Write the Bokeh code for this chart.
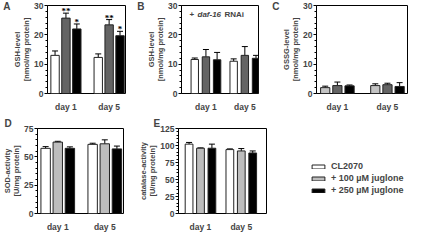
from bokeh.plotting import figure
from bokeh.models import (Range1d, FixedTicker, Whisker, ColumnDataSource, Label,
                          Legend, LegendItem, TeeHead, LinearAxis)
from bokeh.layouts import column, row
from bokeh.embed import file_html
from bokeh.resources import INLINE

days = ["day 1", "day 5"]
groups = ["CL2070", "+ 100 µM juglone", "+ 250 µM juglone"]

# panel A: GSH-level
a_vals = [[13.0, 12.3], [25.7, 23.4], [22.0, 19.7]]
a_err = [[1.5, 1.2], [1.7, 1.8], [1.7, 1.5]]
a_stars = [["", ""], ["**", "**"], ["*", "*"]]
# panel B: GSH-level + daf-16 RNAi
b_vals = [[11.6, 11.0], [12.5, 13.0], [11.5, 12.0]]
b_err = [[0.5, 0.8], [2.5, 3.0], [2.5, 1.0]]
# panel C: GSSG-level
c_vals = [[2.0, 2.7], [2.7, 3.0], [2.6, 2.4]]
c_err = [[0.5, 0.6], [1.2, 0.5], [0.3, 1.3]]
# panel D: SOD-activity
d_vals = [[57.5, 61.0], [63.0, 61.5], [57.5, 57.0]]
d_err = [[1.5, 1.0], [0.7, 3.5], [1.3, 2.5]]
# panel E: catalase-activity
e_vals = [[102.0, 94.0], [96.0, 92.0], [96.0, 89.0]]
e_err = [[2.5, 1.0], [0.5, 3.5], [6.0, 3.0]]

FONT = "Liberation Sans"
DARK = ["white", "#646464", "black"]
LIGHT = ["white", "#bdbdbd", "black"]
C_COLS = ["#c4c4c4", "#646464", "black"]


def panel(vals, errs, colors, ymax, major, minor, ylabel, letter, xr, off, bw,
          width, height, lb, rb, tb, bb, letter_dx, mode, stars=None):
    p = figure(width=width, height=height, output_backend="svg", toolbar_location=None,
               x_range=Range1d(*xr), y_range=Range1d(0, ymax),
               min_border_left=lb, min_border_right=rb, min_border_top=tb,
               min_border_bottom=bb)
    p.grid.visible = False
    p.outline_line_color = "black"
    p.outline_line_width = 1
    p.background_fill_color = "white"
    p.border_fill_color = "white"
    for i, (v, e) in enumerate(zip(vals, errs)):
        xs = [k + (i - 1) * off for k in range(len(days))]
        tops = [vv + ee for vv, ee in zip(v, e)]
        src = ColumnDataSource(dict(x=xs, top=v, up=tops))
        p.vbar(x="x", top="top", width=bw, source=src, fill_color=colors[i],
               line_color="#222222", line_width=1)
        w = Whisker(base="x", upper="up", lower="top", source=src,
                    line_color="black", line_width=1, lower_head=None,
                    upper_head=TeeHead(size=6, line_color="black", line_width=1))
        p.add_layout(w)
        if stars is not None:
            s = ColumnDataSource(dict(x=xs, y=tops, t=stars[i]))
            p.text(x="x", y="y", text="t", source=s, text_align="center",
                   text_baseline="bottom", text_font_size="9px",
                   text_font_style="bold", text_font=FONT, y_offset=3)
    xa = p.xaxis[0]
    xa.ticker = FixedTicker(ticks=list(range(len(days))))
    xa.major_label_overrides = {i: d for i, d in enumerate(days)}
    xa.major_tick_line_color = None
    xa.minor_tick_line_color = None
    xa.axis_line_color = None
    xa.major_label_text_font = FONT
    xa.major_label_text_font_style = "bold"
    xa.major_label_text_font_size = "8.5px"
    xa.major_label_standoff = 2
    ya = p.yaxis[0]
    ya.ticker = FixedTicker(ticks=major, minor_ticks=minor)
    ya.major_tick_out = 3
    ya.major_tick_in = 0
    ya.minor_tick_out = 2
    ya.minor_tick_in = 0
    ya.axis_line_color = None
    ya.major_label_text_font = FONT
    ya.major_label_text_font_style = "bold"
    ya.major_label_text_font_size = "8.5px"
    ya.major_label_standoff = 1
    ya.axis_label = ylabel
    ya.axis_label_text_font = FONT
    ya.axis_label_text_font_style = "bold"
    ya.axis_label_text_font_size = "7.5px"
    ya.axis_label_text_line_height = 1.0
    ya.axis_label_standoff = 0
    if mode == "axis":
        # panel letter drawn as the only tick label of an outer, bare axis
        la = LinearAxis(ticker=FixedTicker(ticks=[ymax]),
                        major_label_overrides={ymax: letter},
                        axis_line_color=None, major_tick_line_color=None,
                        minor_tick_line_color=None, major_label_standoff=0,
                        major_tick_out=0, major_tick_in=0,
                        major_label_text_font=FONT, major_label_text_font_style="bold",
                        major_label_text_font_size="10px")
        p.add_layout(la, "left")
    else:
        p.title.text = letter
        p.title.align = "left"
        p.title.offset = letter_dx
        p.title.standoff = 0
        p.title.text_font = FONT
        p.title.text_font_style = "bold"
        p.title.text_font_size = "10px"
    return p


TOP_H, BOT_H = 114, 120

pa = panel(a_vals, a_err, DARK, 30, [0, 10, 20, 30], list(range(0, 31, 2)),
           "GSH-level\n[nmol/mg protein]", "A", (-0.427, 1.379), 0.252, 0.194,
           134, TOP_H, 33, 9, 5, 19, 0, "axis", stars=a_stars)
pb = panel(b_vals, b_err, DARK, 30, [0, 10, 20, 30], list(range(0, 31, 2)),
           "GSH-level\n[nmol/mg protein]", "B", (-0.628, 1.351), 0.287, 0.19,
           134, TOP_H, 32, 10, 5, 19, 0, "axis")
pc = panel(c_vals, c_err, C_COLS, 30, [0, 10, 20, 30], list(range(0, 31, 2)),
           "GSSG-level\n[nmol/mg protein]", "C", (-0.417, 1.40), 0.243, 0.184,
           141, TOP_H, 48, 2, 5, 19, 0, "axis")
pd = panel(d_vals, d_err, LIGHT, 75, [0, 25, 50, 75], list(range(0, 76, 5)),
           "SOD-activity\n[U/mg protein]", "D", (-0.431, 1.398), 0.258, 0.2,
           136, BOT_H, 35, 13, 14, 13, -33, "title")
pe = panel(e_vals, e_err, LIGHT, 125, [0, 25, 50, 75, 100, 125], list(range(0, 126, 5)),
           "catalase-activity\n[U/mg protein]", "E", (-0.539, 1.618), 0.28, 0.19,
           136, BOT_H, 38, 6, 14, 13, -25, "title")

# "+ daf-16 RNAi" note in panel B
for txt, dx, style in [("+", 8, "bold"), ("daf-16", 16, "bold italic"), ("RNAi", 43, "bold")]:
    pb.add_layout(Label(x=-0.628, y=27, x_offset=dx, text=txt, text_font=FONT,
                        text_font_style=style, text_font_size="8px",
                        text_baseline="middle"))

# legend panel
pl = figure(width=137, height=BOT_H, output_backend="svg", toolbar_location=None,
            x_range=Range1d(0, 1), y_range=Range1d(0, 1), min_border=0)
pl.axis.visible = False
pl.grid.visible = False
pl.outline_line_color = None
items = []
for g, col in zip(groups, LIGHT):
    # off-screen stand-in so the legend can draw the swatch
    r = pl.vbar(x=[5], top=[0], width=0.1, fill_color=col, line_color="#222222")
    items.append(LegendItem(label=g, renderers=[r]))
leg = Legend(items=items, location=(38, 18), padding=0, margin=0, spacing=2,
             glyph_width=16, glyph_height=5, label_height=10, label_standoff=5,
             label_text_font=FONT, label_text_font_style="bold",
             label_text_font_size="9px", border_line_color=None,
             background_fill_alpha=0)
pl.add_layout(leg)

layout = column(row(pa, pb, pc), row(pd, pe, pl))
open("out.html", "w").write(file_html(layout, INLINE))
